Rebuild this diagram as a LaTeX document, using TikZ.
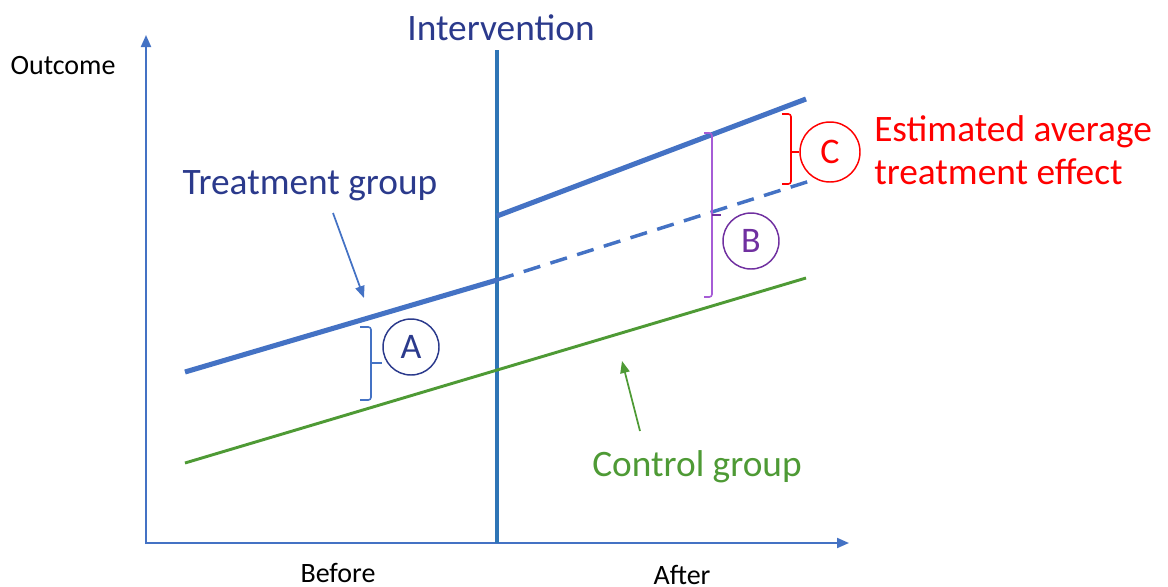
\documentclass[tikz,border=0pt]{standalone}
\usepackage{fontspec}
\setmainfont{Carlito}
\usetikzlibrary{arrows.meta}
\definecolor{axisBlue}{HTML}{4472C4}
\definecolor{treatBlue}{HTML}{4472C4}
\definecolor{interBlue}{HTML}{2E75B6}
\definecolor{navyText}{HTML}{2B3A8C}
\definecolor{ctrlGreen}{HTML}{4E9A35}
\definecolor{bPurple}{HTML}{7030A0}
\definecolor{bPurpleLight}{HTML}{A65CD6}
\definecolor{cRed}{HTML}{FF0000}
\tikzset{
  bigtext/.style={font=\fontsize{28}{32}\selectfont, inner sep=0pt},
  smalltext/.style={font=\fontsize{21}{24}\selectfont, inner sep=0pt},
  letterring/.style={circle, draw, line width=1.1pt, minimum size=42pt, inner sep=0pt,
    font=\fontsize{27}{30}\selectfont},
  bracket/.style={line width=1.2pt, rounded corners=2pt},
  pointer/.style={-{Triangle[length=9pt,width=7pt]}, line width=1.3pt}
}
\begin{document}
\begin{tikzpicture}[x=0.75pt, y=-0.75pt]
\useasboundingbox (0,0) rectangle (1168,586);
% Axes
\begin{scope}[draw=axisBlue, line width=1.5pt, -{Triangle[length=9pt,width=7.5pt]}]
  \draw (146,544) -- (146,35);
  \draw (145,543) -- (849,543);
\end{scope}
\node[smalltext] (outcome) at (63,66) {Outcome};
\node[smalltext] (before) at (338,573) {Before};
\node[smalltext] (after) at (682,575) {After};
% Intervention
\draw[interBlue, line width=2.4pt] (497,50) -- (497,543);
\node[bigtext, text=navyText] (inter) at (501,28) {Intervention};
% Line end points
\coordinate (tb0) at (185,372);
\coordinate (tb1) at (497,280);
\coordinate (ta0) at (497,216);
\coordinate (ta1) at (806,99);
\coordinate (td1) at (810,181);
\coordinate (c0) at (185,463);
\coordinate (c1) at (806,278);
% Treatment and control lines
\draw[treatBlue, line width=3.8pt] (tb0) -- (tb1);
\draw[treatBlue, line width=3.8pt] (ta0) -- (ta1);
\draw[treatBlue, line width=2.6pt, dash pattern=on 13pt off 8pt] (tb1) -- (td1);
\draw[ctrlGreen, line width=2.2pt] (c0) -- (c1);
% Group labels
\node[bigtext, text=navyText] (treat) at (310,186) {Treatment group};
\node[bigtext, text=ctrlGreen] (control) at (697,467) {Control group};
\coordinate (treatfrom) at (333,213);
\coordinate (treatto) at (364,298);
\coordinate (ctrlfrom) at (640,431);
\coordinate (ctrlto) at (622,361);
\draw[pointer, axisBlue] (treatfrom) -- (treatto);
\draw[pointer, ctrlGreen] (ctrlfrom) -- (ctrlto);
% Differences A, B and C
\node[letterring, draw=navyText, text=navyText] (A) at (411,347) {A};
\draw[bracket, axisBlue] (360,327) -- (371,327) -- (371,400) -- (360,400);
\draw[bracket, axisBlue, rounded corners=0pt] (371,363) -- (A.west |- 0,363);
\node[letterring, draw=bPurple, text=bPurple] (B) at (751,241) {B};
\draw[bracket, bPurpleLight] (704,133) -- (712,133) -- (712,297) -- (704,297);
\draw[bracket, bPurple, rounded corners=0pt] (712,215) -- (721,215);
\node[letterring, draw=cRed, text=cRed, minimum size=45pt] (C) at (830,152) {C};
\draw[bracket, cRed] (782,114) -- (791,114) -- (791,184) -- (782,184);
\draw[bracket, cRed, rounded corners=0pt] (791,152) -- (C.west);
\node[bigtext, text=cRed, align=left, anchor=west] (effect) at (874,150)
  {Estimated average\\treatment effect};
\end{tikzpicture}
\end{document}
